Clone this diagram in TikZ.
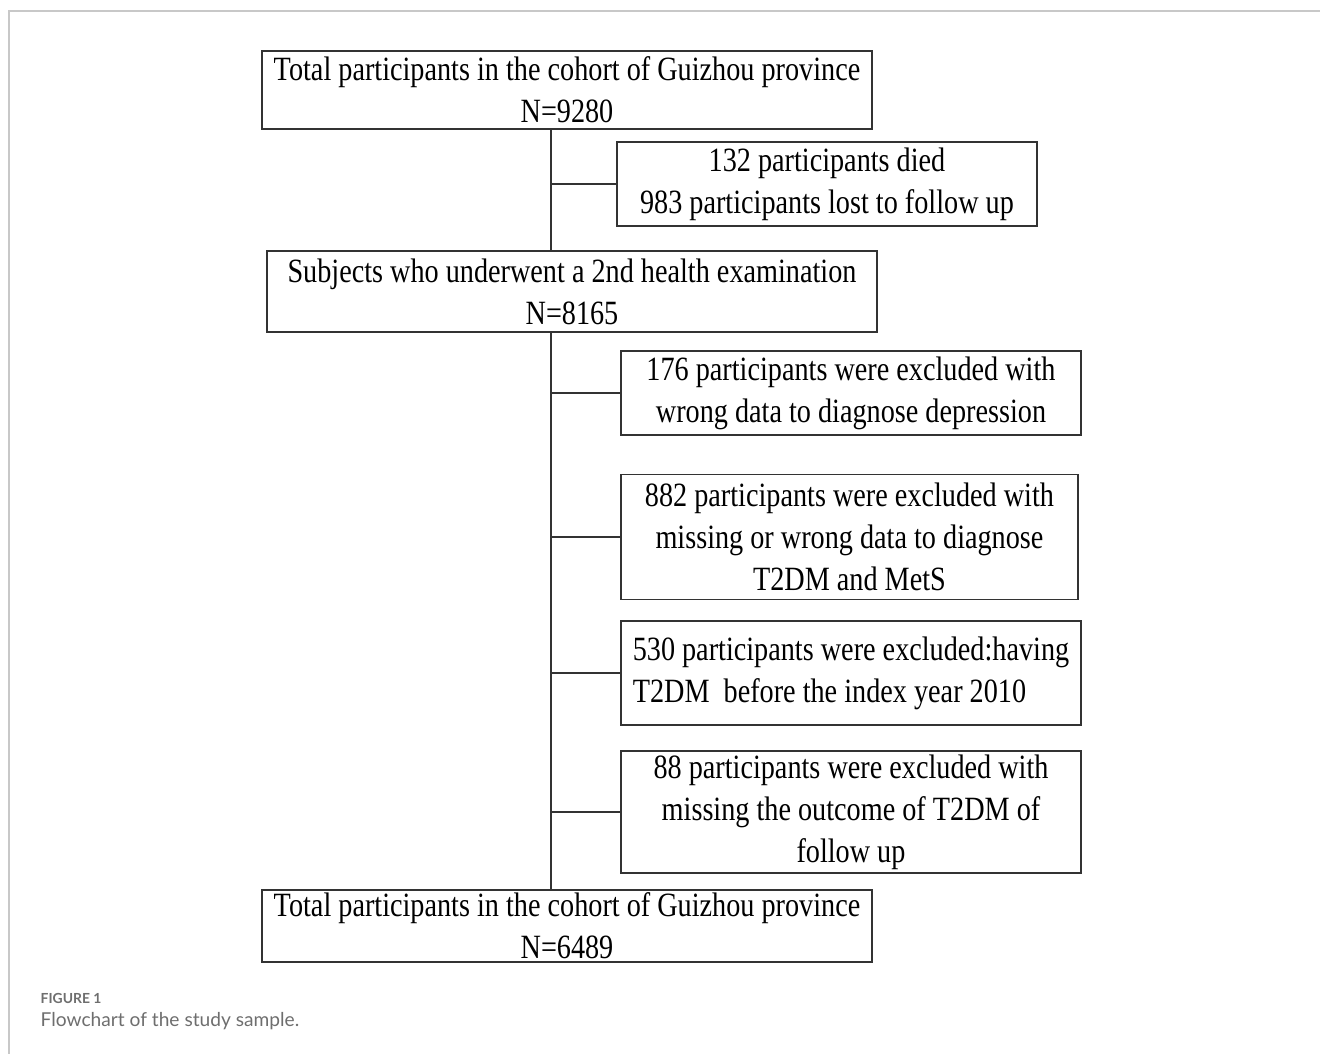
\documentclass[tikz,border=0pt]{standalone}
\usepackage{fontspec}
\setmainfont{Liberation Serif}[FakeStretch=0.83]
\newfontfamily\capfont{Lato}
\usetikzlibrary{positioning}
\definecolor{cframe}{HTML}{C8C8C8}
\definecolor{cline}{HTML}{333333}
\definecolor{ccap}{HTML}{6E6E6E}
\tikzset{
  every picture/.style={line width=0.85pt},
  box/.style={draw=cline, align=center, inner sep=0pt, minimum width=#1,
    font=\fontsize{19.35}{23.9}\selectfont},
  box/.default=9.2cm,
  link/.style={draw=cline, line width=0.85pt},
  caphead/.style={anchor=base west, inner sep=0pt, text=ccap, font=\capfont\bfseries\fontsize{7.9}{9}\selectfont},
  captext/.style={anchor=base west, inner sep=0pt, text=ccap, font=\capfont\fontsize{10.9}{13}\selectfont},
}

\begin{document}
\begin{tikzpicture}[x=0.02cm, y=-0.02cm]
  \useasboundingbox (0,0) rectangle (1320,1054);
  \draw[cframe, line width=0.6pt] (9,1054) -- (9,11) -- (1320,11);

  \node[box=12.2cm, minimum height=1.56cm] (total) at (567,90)
    {Total participants in the cohort of Guizhou province\\N=9280};
  \node[box=8.4cm, minimum height=1.68cm] (died) at (827,184)
    {132 participants died\\983 participants lost to follow up};
  \node[box=12.2cm, minimum height=1.62cm] (exam) at (572,291.5)
    {Subjects who underwent a 2nd health examination\\N=8165};
  \node[box, minimum height=1.68cm] (depress) at (851,393)
    {176 participants were excluded with\\wrong data to diagnose depression};
  \node[box=9.14cm, minimum height=2.5cm] (mets) at (849.5,537)
    {882 participants were excluded with\\missing or wrong data to diagnose\\T2DM and MetS};
  \node[box, minimum height=2.08cm, align=left] (before) at (851,673)
    {530 participants were excluded:having\\T2DM\ \ before the index year 2010};
  \node[box, minimum height=2.44cm] (outcome) at (851,812)
    {88 participants were excluded with\\missing the outcome of T2DM of\\follow up};
  \node[box=12.2cm, minimum height=1.44cm] (final) at (567,926)
    {Total participants in the cohort of Guizhou province\\N=6489};

  \coordinate (trunk) at (551,0);
  \draw[link] (total.south -| trunk) -- (exam.north -| trunk);
  \draw[link] (exam.south -| trunk) -- (final.north -| trunk);
  \foreach \b in {died, depress, mets, before, outcome}
    \draw[link] (trunk |- \b.west) -- (\b.west);

  \node[caphead] (fig) at (40,1003.3) {FIGURE 1};
  \node[captext] (cap) at (40,1026) {Flowchart of the study sample.};
\end{tikzpicture}
\end{document}
